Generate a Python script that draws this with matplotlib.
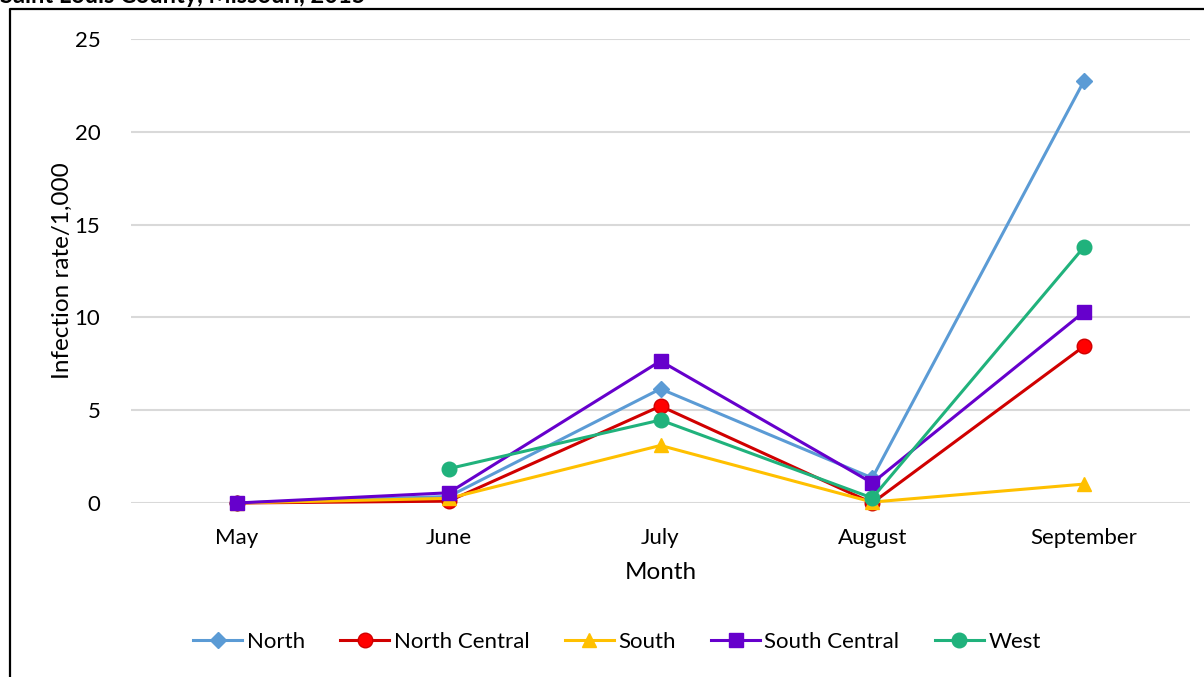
import numpy as np
import matplotlib.pyplot as plt
from matplotlib.lines import Line2D

months = ["May", "June", "July", "August", "September"]
north = [0, 0.35, 6.15, 1.35, 22.75]
north_central = [0, 0.1, 5.22, 0.0, 8.45]
south = [0, 0.25, 3.1, 0.05, 1.02]
south_central = [0, 0.55, 7.65, 1.08, 10.3]
west = [np.nan, 1.85, 4.47, 0.27, 13.8]

plt.rcParams["font.family"] = ["Lato", "DejaVu Sans"]

fig = plt.figure(figsize=(12.04, 6.77), dpi=100)
ax = fig.add_axes([131/1204, 1 - 503/677, (1190 - 131)/1204, (503 - 39)/677])

x = np.arange(len(months))
series = [
    ("North", north, "#5B9BD5", "#5B9BD5", "#5B9BD5", "D", 8.5),
    ("North Central", north_central, "#D00000", "#FF0000", "#D00000", "o", 10.5),
    ("South", south, "#FFC000", "#FFC000", "#FFC000", "^", 10.5),
    ("South Central", south_central, "#6600CC", "#6600CC", "#6600CC", "s", 10),
    ("West", west, "#20B27C", "#20B27C", "#20B27C", "o", 10.5),
]
for name, vals, lc, fc, ec, mk, ms in series:
    ax.plot(x, vals, color=lc, lw=2.2, marker=mk, markersize=ms,
            markerfacecolor=fc, markeredgecolor=ec, label=name,
            clip_on=False, zorder=3)

ax.set_xlim(-0.5, 4.5)
ax.set_ylim(0, 25)
ax.set_yticks([0, 5, 10, 15, 20, 25])
ax.set_xticks(x)
ax.set_xticklabels(months)
ax.grid(axis="y", color="#D9D9D9", lw=1.5, zorder=0)
for s in ax.spines.values():
    s.set_visible(False)
ax.tick_params(length=0, labelsize=16, colors="black")
ax.tick_params(axis="y", pad=22)
ax.tick_params(axis="x", pad=18)
ax.set_xlabel("Month", size=17.5, labelpad=10)
ax.set_ylabel("Infection rate/1,000", size=17.5, labelpad=1)

handles = [Line2D([], [], color=lc, lw=2.2, marker=mk, markersize=ms,
                  markerfacecolor=fc, markeredgecolor=ec)
           for name, vals, lc, fc, ec, mk, ms in series]
fig.legend(handles, [s[0] for s in series], loc="center", ncol=5,
           bbox_to_anchor=(617/1204, 1 - 642/677), frameon=False,
           fontsize=16, handlelength=2.2, columnspacing=1.6,
           handletextpad=0.2)

# outer frame (partly cropped)
fig.add_artist(Line2D([10/1204, 10/1204, 1.01], [-0.01, 1 - 9/677, 1 - 9/677],
                      color="black", lw=1.6, transform=fig.transFigure))
fig.text(0, 1 - 3/677, "Saint Louis County, Missouri, 2015", fontsize=17,
         fontweight="bold", va="baseline", ha="left")

plt.savefig("out.png", dpi=100)
